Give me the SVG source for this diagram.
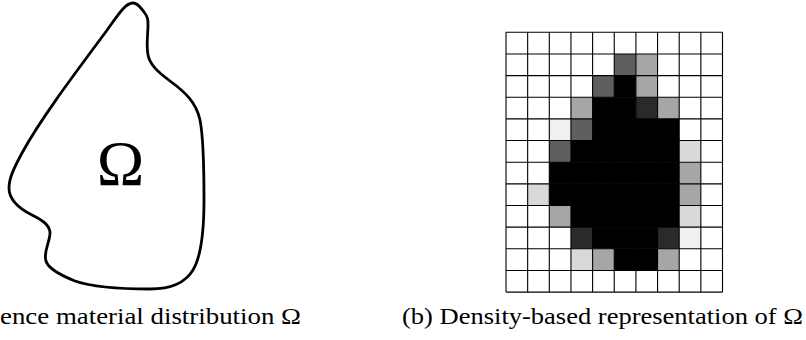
<svg xmlns="http://www.w3.org/2000/svg" width="806" height="340" viewBox="0 0 806 340">
<style>
.cap{font-family:"Liberation Serif","DejaVu Serif",serif;font-size:24px;fill:#000}
.om{font-family:"Liberation Serif","DejaVu Serif",serif;font-size:64px;fill:#000}
.k{fill:#000}.g1{fill:#2a2a2a}.g2{fill:#5f5f5f}.g3{fill:#a6a6a6}.g4{fill:#d9d9d9}.g5{fill:#f0f0f0}
.grid{stroke:#000;stroke-width:1.1;fill:none}
</style>
<rect width="806" height="340" fill="#fff"/>
<g id="blob">
<path d="M133,3 C138,3 141,8 144,12 C148,17 148,20 148,25 C148,35 146,45 148,55 C150,65 158,72 170,81 C185,92 196,102 200,120 C204,140 204,175 204,200 C204,230 202,255 193,270 C185,283 172,289 150,289 C125,289 95,288 75,281 C60,275 48,268 46,261 C43,252 50,242 50,233 C50,225 42,220 32,215 C18,208 9,200 9,188 C9,178 14,168 22,153 C40,120 70,80 105,33 C118,15 125,3 133,3 Z" fill="none" stroke="#000" stroke-width="2.8" stroke-linejoin="round"/>
<text class="om" x="120.5" y="185" text-anchor="middle">Ω</text>
</g>
<g id="density-grid">
<rect class="g2" x="614.25" y="53.95" width="21.65" height="21.65"/>
<rect class="g3" x="635.9" y="53.95" width="21.65" height="21.65"/>
<rect class="g2" x="592.6" y="75.6" width="21.65" height="21.65"/>
<rect class="k" x="614.25" y="75.6" width="21.65" height="21.65"/>
<rect class="g3" x="635.9" y="75.6" width="21.65" height="21.65"/>
<rect class="g3" x="570.95" y="97.25" width="21.65" height="21.65"/>
<rect class="k" x="592.6" y="97.25" width="43.3" height="21.65"/>
<rect class="g1" x="635.9" y="97.25" width="21.65" height="21.65"/>
<rect class="g3" x="657.55" y="97.25" width="21.65" height="21.65"/>
<rect class="g5" x="549.3" y="118.9" width="21.65" height="21.65"/>
<rect class="g2" x="570.95" y="118.9" width="21.65" height="21.65"/>
<rect class="k" x="592.6" y="118.9" width="86.6" height="21.65"/>
<rect class="g2" x="549.3" y="140.55" width="21.65" height="21.65"/>
<rect class="k" x="570.95" y="140.55" width="108.25" height="21.65"/>
<rect class="g4" x="679.2" y="140.55" width="21.65" height="21.65"/>
<rect class="k" x="549.3" y="162.2" width="129.9" height="21.65"/>
<rect class="g3" x="679.2" y="162.2" width="21.65" height="21.65"/>
<rect class="g4" x="527.65" y="183.85" width="21.65" height="21.65"/>
<rect class="k" x="549.3" y="183.85" width="129.9" height="21.65"/>
<rect class="g3" x="679.2" y="183.85" width="21.65" height="21.65"/>
<rect class="g3" x="549.3" y="205.5" width="21.65" height="21.65"/>
<rect class="k" x="570.95" y="205.5" width="108.25" height="21.65"/>
<rect class="g4" x="679.2" y="205.5" width="21.65" height="21.65"/>
<rect class="g1" x="570.95" y="227.15" width="21.65" height="21.65"/>
<rect class="k" x="592.6" y="227.15" width="64.95" height="21.65"/>
<rect class="g1" x="657.55" y="227.15" width="21.65" height="21.65"/>
<rect class="g5" x="679.2" y="227.15" width="21.65" height="21.65"/>
<rect class="g4" x="570.95" y="248.8" width="21.65" height="21.65"/>
<rect class="g3" x="592.6" y="248.8" width="21.65" height="21.65"/>
<rect class="k" x="614.25" y="248.8" width="43.3" height="21.65"/>
<rect class="g3" x="657.55" y="248.8" width="21.65" height="21.65"/>
<path class="grid" d="M506,32.3V292.1M527.65,32.3V292.1M549.3,32.3V292.1M570.95,32.3V292.1M592.6,32.3V292.1M614.25,32.3V292.1M635.9,32.3V292.1M657.55,32.3V292.1M679.2,32.3V292.1M700.85,32.3V292.1M722.5,32.3V292.1M506,32.3H722.5M506,53.95H722.5M506,75.6H722.5M506,97.25H722.5M506,118.9H722.5M506,140.55H722.5M506,162.2H722.5M506,183.85H722.5M506,205.5H722.5M506,227.15H722.5M506,248.8H722.5M506,270.45H722.5M506,292.1H722.5"/>
</g>
<g id="captions">
<text class="cap" x="0" y="324" textLength="301" lengthAdjust="spacingAndGlyphs">ence material distribution Ω</text>
<text class="cap" x="402" y="324" textLength="401" lengthAdjust="spacingAndGlyphs">(b) Density-based representation of Ω</text>
</g>
</svg>
